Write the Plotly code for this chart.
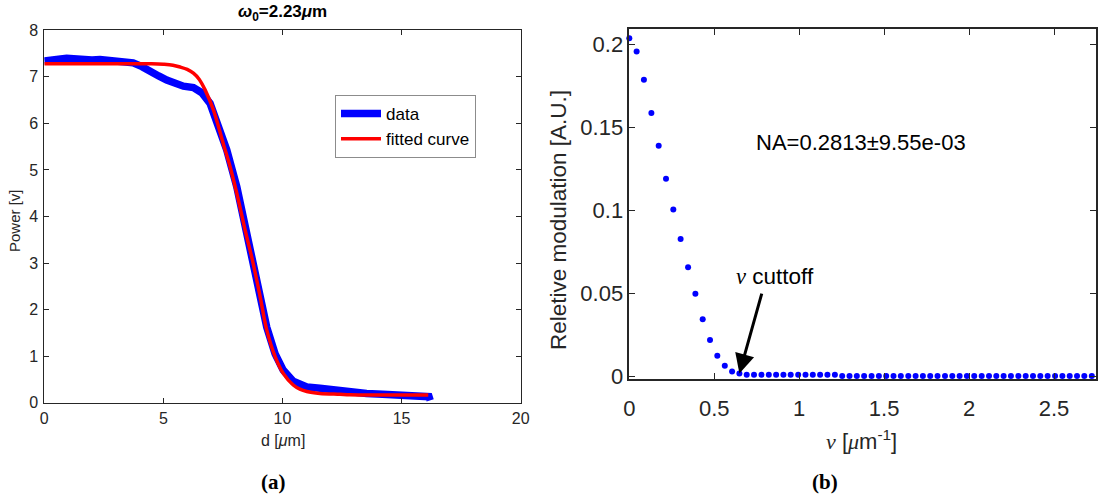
import plotly.graph_objects as go

# ---------------- data: panel (a) knife-edge scan ----------------
d_data = [0, 0.3, 0.6, 0.94, 1.3, 1.7, 2.0, 2.34, 2.7, 3.0, 3.4, 3.73, 4.1, 4.44, 4.8,
          5.14, 5.5, 5.84, 6.26, 6.61, 6.96, 7.24, 7.66, 8.08, 8.43, 8.77, 9.06, 9.34,
          9.69, 10.03, 10.45, 10.73, 11.02, 11.57, 12.13, 12.41, 13.53, 14.2, 14.93,
          15.5, 16.05, 16.15, 16.2]
p_data = [7.34, 7.38, 7.38, 7.40, 7.38, 7.38, 7.36, 7.37, 7.36, 7.34, 7.32, 7.30, 7.22,
          7.14, 7.02, 6.93, 6.86, 6.80, 6.77, 6.66, 6.43, 6.07, 5.43, 4.64, 3.78, 3.02,
          2.32, 1.62, 1.05, 0.70, 0.46, 0.38, 0.34, 0.31, 0.27, 0.24, 0.20, 0.18, 0.165,
          0.16, 0.14, 0.13, 0.05]

d_fit = [0, 1, 2, 3, 4, 4.5, 5.0, 5.4, 5.71, 6.0, 6.26, 6.5, 6.75, 7.10, 7.51, 7.80,
         8.08, 8.43, 8.77, 9.06, 9.34, 9.69, 10.03, 10.45, 10.73, 11.02, 11.57, 12.41,
         12.83, 14, 15, 16.12]
p_fit = [7.28, 7.28, 7.28, 7.28, 7.28, 7.28, 7.27, 7.25, 7.21, 7.16, 7.08, 6.95, 6.72,
         6.29, 5.57, 5.07, 4.50, 3.71, 2.99, 2.28, 1.56, 0.99, 0.63, 0.38, 0.29, 0.24,
         0.20, 0.18, 0.17, 0.165, 0.165, 0.165]

a_xticks = [0, 5, 10, 15, 20]
a_yticks = [0, 1, 2, 3, 4, 5, 6, 7, 8]

# ---------------- data: panel (b) modulation vs spatial frequency ----------------
nu = [0, 0.043, 0.086, 0.130, 0.173, 0.216, 0.259, 0.302, 0.346, 0.389, 0.432, 0.475,
      0.518, 0.562, 0.605, 0.648, 0.691, 0.734, 0.778, 0.821, 0.864, 0.907, 0.950,
      0.994, 1.037, 1.080, 1.123, 1.166, 1.210, 1.253, 1.296, 1.339, 1.382, 1.426,
      1.469, 1.512, 1.555, 1.598, 1.642, 1.685, 1.728, 1.771, 1.814, 1.858, 1.901,
      1.944, 1.987, 2.030, 2.074, 2.117, 2.160, 2.203, 2.246, 2.290, 2.333, 2.376,
      2.419, 2.462, 2.506, 2.549, 2.592, 2.635, 2.678, 2.722]
modulation = [0.2036, 0.1956, 0.1786, 0.1587, 0.1389, 0.1190, 0.1006, 0.0828, 0.0657,
              0.0498, 0.0345, 0.0220, 0.0125, 0.0065, 0.0030, 0.0018,
              0.0011, 0.0010, 0.0010, 0.0010, 0.0010, 0.0010, 0.0011, 0.0010, 0.0010,
              0.0010, 0.0010, 0.0010, 0.0010,
              0.0003, 0.0003, 0.0003, 0.0003, 0.0003, 0.0003, 0.0003, 0.0003, 0.0003,
              0.0003, 0.0003, 0.0003, 0.0003, 0.0003, 0.0003, 0.0003, 0.0003, 0.0003,
              0.0003, 0.0003, 0.0003, 0.0003, 0.0003, 0.0003, 0.0003, 0.0003, 0.0003,
              0.0003, 0.0003, 0.0003, 0.0003, 0.0003, 0.0003, 0.0003, 0.0003]
b_xticks = [0, 0.5, 1, 1.5, 2, 2.5]
b_xticklabels = ["0", "0.5", "1", "1.5", "2", "2.5"]
b_yticks = [0, 0.05, 0.1, 0.15, 0.2]
b_yticklabels = ["0", "0.05", "0.1", "0.15", "0.2"]

cutoff_nu = 0.648
cutoff_val = 0.0018
cutoff_tail = (0.782, 0.0508)

# ---------------- figure ----------------
W, H = 1098, 502
SANS = "Liberation Sans, Arial, sans-serif"
SERIF = "Liberation Serif, DejaVu Serif, serif"
TXT = "#262626"

fig = go.Figure()
fig.add_trace(go.Scatter(x=d_data, y=p_data, mode="lines", name="data",
                         line=dict(color="#0000ff", width=7.5), xaxis="x", yaxis="y"))
fig.add_trace(go.Scatter(x=d_fit, y=p_fit, mode="lines", name="fitted curve",
                         line=dict(color="#ff0000", width=3.5, shape="spline"),
                         xaxis="x", yaxis="y"))
fig.add_trace(go.Scatter(x=nu, y=modulation, mode="markers", showlegend=False,
                         marker=dict(color="#0000ff", size=6),
                         xaxis="x2", yaxis="y2", cliponaxis=False))


def px(xp):
    return xp / W


def py(yp):
    return (H - yp) / H


axis_common = dict(showgrid=False, zeroline=False, showline=True, mirror="ticks",
                   ticks="inside", linecolor=TXT, tickcolor=TXT, automargin=False)

fig.update_layout(
    width=W, height=H,
    margin=dict(l=0, r=0, t=0, b=0, autoexpand=False),
    paper_bgcolor="white", plot_bgcolor="white",
    font=dict(family=SANS, color=TXT),
    xaxis=dict(domain=[px(44.3), px(520.7)], range=[0, 20], tickvals=a_xticks,
               ticklen=5, linewidth=1, tickfont=dict(size=16), ticklabelstandoff=1,
               anchor="y", **axis_common),
    yaxis=dict(domain=[py(402.7), py(30.3)], range=[0, 8], tickvals=a_yticks,
               ticklen=5, linewidth=1, tickfont=dict(size=16), ticklabelstandoff=2,
               anchor="x", **axis_common),
    xaxis2=dict(domain=[px(629.3), px(1095.7)], range=[0, 2.745], tickvals=b_xticks,
                ticktext=b_xticklabels, ticklen=6, linewidth=1.5,
                tickfont=dict(size=22), ticklabelstandoff=9, anchor="y2", **axis_common),
    yaxis2=dict(domain=[py(378.5), py(29)], range=[-0.0012, 0.2092], tickvals=b_yticks,
                ticktext=b_yticklabels, ticklen=6, linewidth=1.5,
                tickfont=dict(size=22), ticklabelstandoff=0, anchor="x2", **axis_common),
    legend=dict(x=px(335), y=py(95), xanchor="left", yanchor="top",
                bgcolor="white", bordercolor="#8c8c8c", borderwidth=1,
                font=dict(size=17, color="#000000"), tracegroupgap=0,
                itemwidth=40),
)

CENTER = dict(xref="paper", yref="paper", showarrow=False, xanchor="center",
              yanchor="middle")
ann = []
# panel (a) texts
ann.append(dict(text="<b><i>ω</i><sub>0</sub>=2.23<i>μ</i>m</b>", x=px(282), y=py(13),
                font=dict(size=17, color="#000"), **CENTER))
ann.append(dict(text="Power [v]", x=px(14), y=py(221), textangle=-90,
                font=dict(size=15, color=TXT), **CENTER))
ann.append(dict(text="d [<i>μ</i>m]", x=px(282.5), y=py(440),
                font=dict(size=16, color=TXT), **CENTER))
ann.append(dict(text="<b>(a)</b>", x=px(273), y=py(482),
                font=dict(size=21, family=SERIF, color="#000"), **CENTER))
# panel (b) texts
ann.append(dict(text="Reletive modulation [A.U.]", x=px(558), y=py(220), textangle=-90,
                font=dict(size=22.5, color=TXT), **CENTER))
ann.append(dict(text="<span style='font-family:Liberation Serif'><i>ν</i></span> [<span style='font-family:Liberation Serif'><i>μ</i></span>m<sup>-1</sup>]",
                x=px(862), y=py(440), font=dict(size=22, color=TXT), **CENTER))
ann.append(dict(text="NA=0.2813±9.55e-03", x=px(861), y=py(143),
                font=dict(size=22, color="#000"), **CENTER))
ann.append(dict(text="<span style='font-family:Liberation Serif'><i>ν</i></span> cuttoff",
                x=px(775), y=py(276), font=dict(size=22.5, color="#000"), **CENTER))
ann.append(dict(text="", x=cutoff_nu, y=cutoff_val, xref="x2", yref="y2",
                ax=cutoff_tail[0], ay=cutoff_tail[1], axref="x2", ayref="y2",
                showarrow=True, arrowhead=2, arrowsize=1.3, arrowwidth=3,
                arrowcolor="#000", standoff=0))
ann.append(dict(text="<b>(b)</b>", x=px(825), y=py(482),
                font=dict(size=21, family=SERIF, color="#000"), **CENTER))
fig.update_layout(annotations=ann)

fig.write_html("out.html", config={"displayModeBar": False},
               post_script="document.body.style.margin='0';document.body.style.overflow='hidden';")
